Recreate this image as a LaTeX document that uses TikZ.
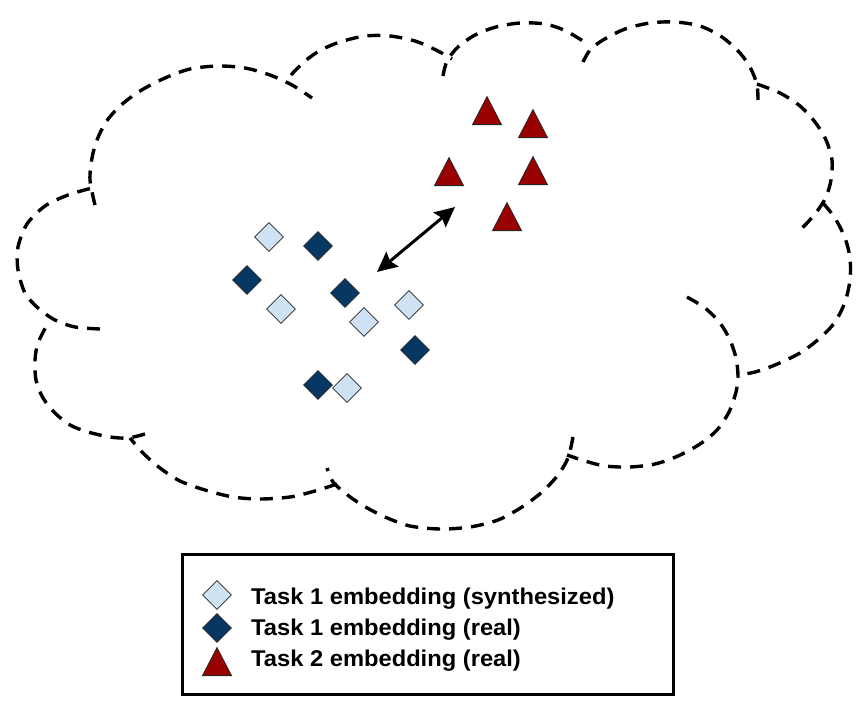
\documentclass[tikz,border=0pt]{standalone}
\usepackage{fontspec}
\setmainfont{Liberation Sans}[FakeStretch=1.04]
\usetikzlibrary{positioning,shapes.geometric,arrows.meta}
\definecolor{synthblue}{HTML}{CFE2F3}
\definecolor{realblue}{HTML}{073763}
\definecolor{realred}{HTML}{990000}
\tikzset{
  bump/.style={line width=3.4pt, dash pattern=on 13pt off 9pt},
  synth/.style={diamond, draw=black!85, line width=0.8pt, fill=synthblue, inner sep=0pt, minimum size=29pt},
  real/.style={synth, fill=realblue},
  task2/.style={isosceles triangle, isosceles triangle stretches, shape border rotate=90, anchor=south,
    draw=black!85, line width=0.8pt, fill=realred, inner sep=0pt, minimum width=29pt, minimum height=28pt},
  legtext/.style={anchor=base west, inner sep=0pt, font=\fontsize{22.8}{27}\selectfont\bfseries}
}

\begin{document}
\begin{tikzpicture}[x=1pt, y=-1pt]
    \useasboundingbox (0,0) rectangle (868,713);

    % cloud
    \draw[bump] plot[smooth] coordinates {(100,329) (75,327) (55,320) (38,308) (25,293) (18,270) (18,247) (27,224) (45,206) (68,195) (92,188)};
    \draw[bump] plot[smooth] coordinates {(95,205) (90,180) (92,158) (97,140) (106,122) (120,106) (140,91) (165,78) (190,69) (218,66) (245,68) (270,75) (292,85) (312,98)};
    \draw[bump] plot[smooth] coordinates {(291,75) (305,61) (321,50) (340,42) (365,36) (390,36) (415,41) (436,50) (452,59)};
    \draw[bump] plot[smooth] coordinates {(443,76) (447,61) (458,47) (475,35) (496,27) (520,23) (545,24) (566,31) (586,43)};
    \draw[bump] plot[smooth] coordinates {(583,62) (590,50) (603,40) (625,29) (650,23) (675,22) (700,26) (722,37) (740,53) (751,69) (757,85) (758,100)};
    \draw[bump] plot[smooth] coordinates {(757,84) (780,93) (800,106) (815,122) (826,140) (832,160) (831,180) (826,197) (818,210) (808,222) (797,233)};
    \draw[bump] plot[smooth] coordinates {(823,203) (835,218) (845,238) (850,258) (850,280) (845,302) (835,322) (820,338) (800,353) (775,365) (755,372) (738,375)};
    \draw[bump] plot[smooth] coordinates {(687,297) (705,308) (720,323) (730,340) (736,358) (738,376) (736,392) (729,412) (717,430) (700,444) (678,456) (655,464) (630,467) (605,466) (585,461) (567,455)};
    \draw[bump] plot[smooth] coordinates {(573,437) (568,458) (558,475) (542,492) (522,507) (498,520) (470,527) (440,529) (410,526) (385,517) (362,505) (345,493) (333,482) (327,468)};
    \draw[bump] plot[smooth] coordinates {(337,484) (315,491) (290,497) (260,499) (233,497) (205,490) (180,481) (160,468) (143,453) (130,438)};
    \draw[bump] plot[smooth] coordinates {(145,434) (128,438) (110,437) (88,432) (70,425) (55,413) (43,398) (36,380) (35,360) (38,343) (47,325)};

    % embeddings
    \foreach \x/\y [count=\i] in {269/237, 281/309, 364/322, 409/305, 347/388}
        \node[synth] (s\i) at (\x,\y) {};
    \foreach \x/\y [count=\i] in {318/246, 247/280, 345/293, 415/350, 318/385}
        \node[real] (r\i) at (\x,\y) {};
    \foreach \x/\y [count=\i] in {487/125, 533/138, 449/186, 533/185, 507/231}
        \node[task2] (t\i) at (\x,\y) {};

    \coordinate (near) at (377,272);
    \coordinate (far) at (455,207);
    \draw[line width=3pt, {Stealth[length=20pt,width=19pt,inset=3pt]}-{Stealth[length=20pt,width=19pt,inset=3pt]}] (near) -- (far);

    % legend
    \node[draw, line width=3pt, minimum width=491pt, minimum height=140pt, anchor=north west] (legend) at (181,553) {};
    \node[synth] (k1) at (217,595) {};
    \node[real] (k2) at (217,628) {};
    \node[task2] (k3) at (217,676) {};
    \node[legtext] (l1) at (251,604) {Task 1 embedding (synthesized)};
    \node[legtext] (l2) at (251,635) {Task 1 embedding (real)};
    \node[legtext] (l3) at (251,666) {Task 2 embedding (real)};
\end{tikzpicture}
\end{document}
